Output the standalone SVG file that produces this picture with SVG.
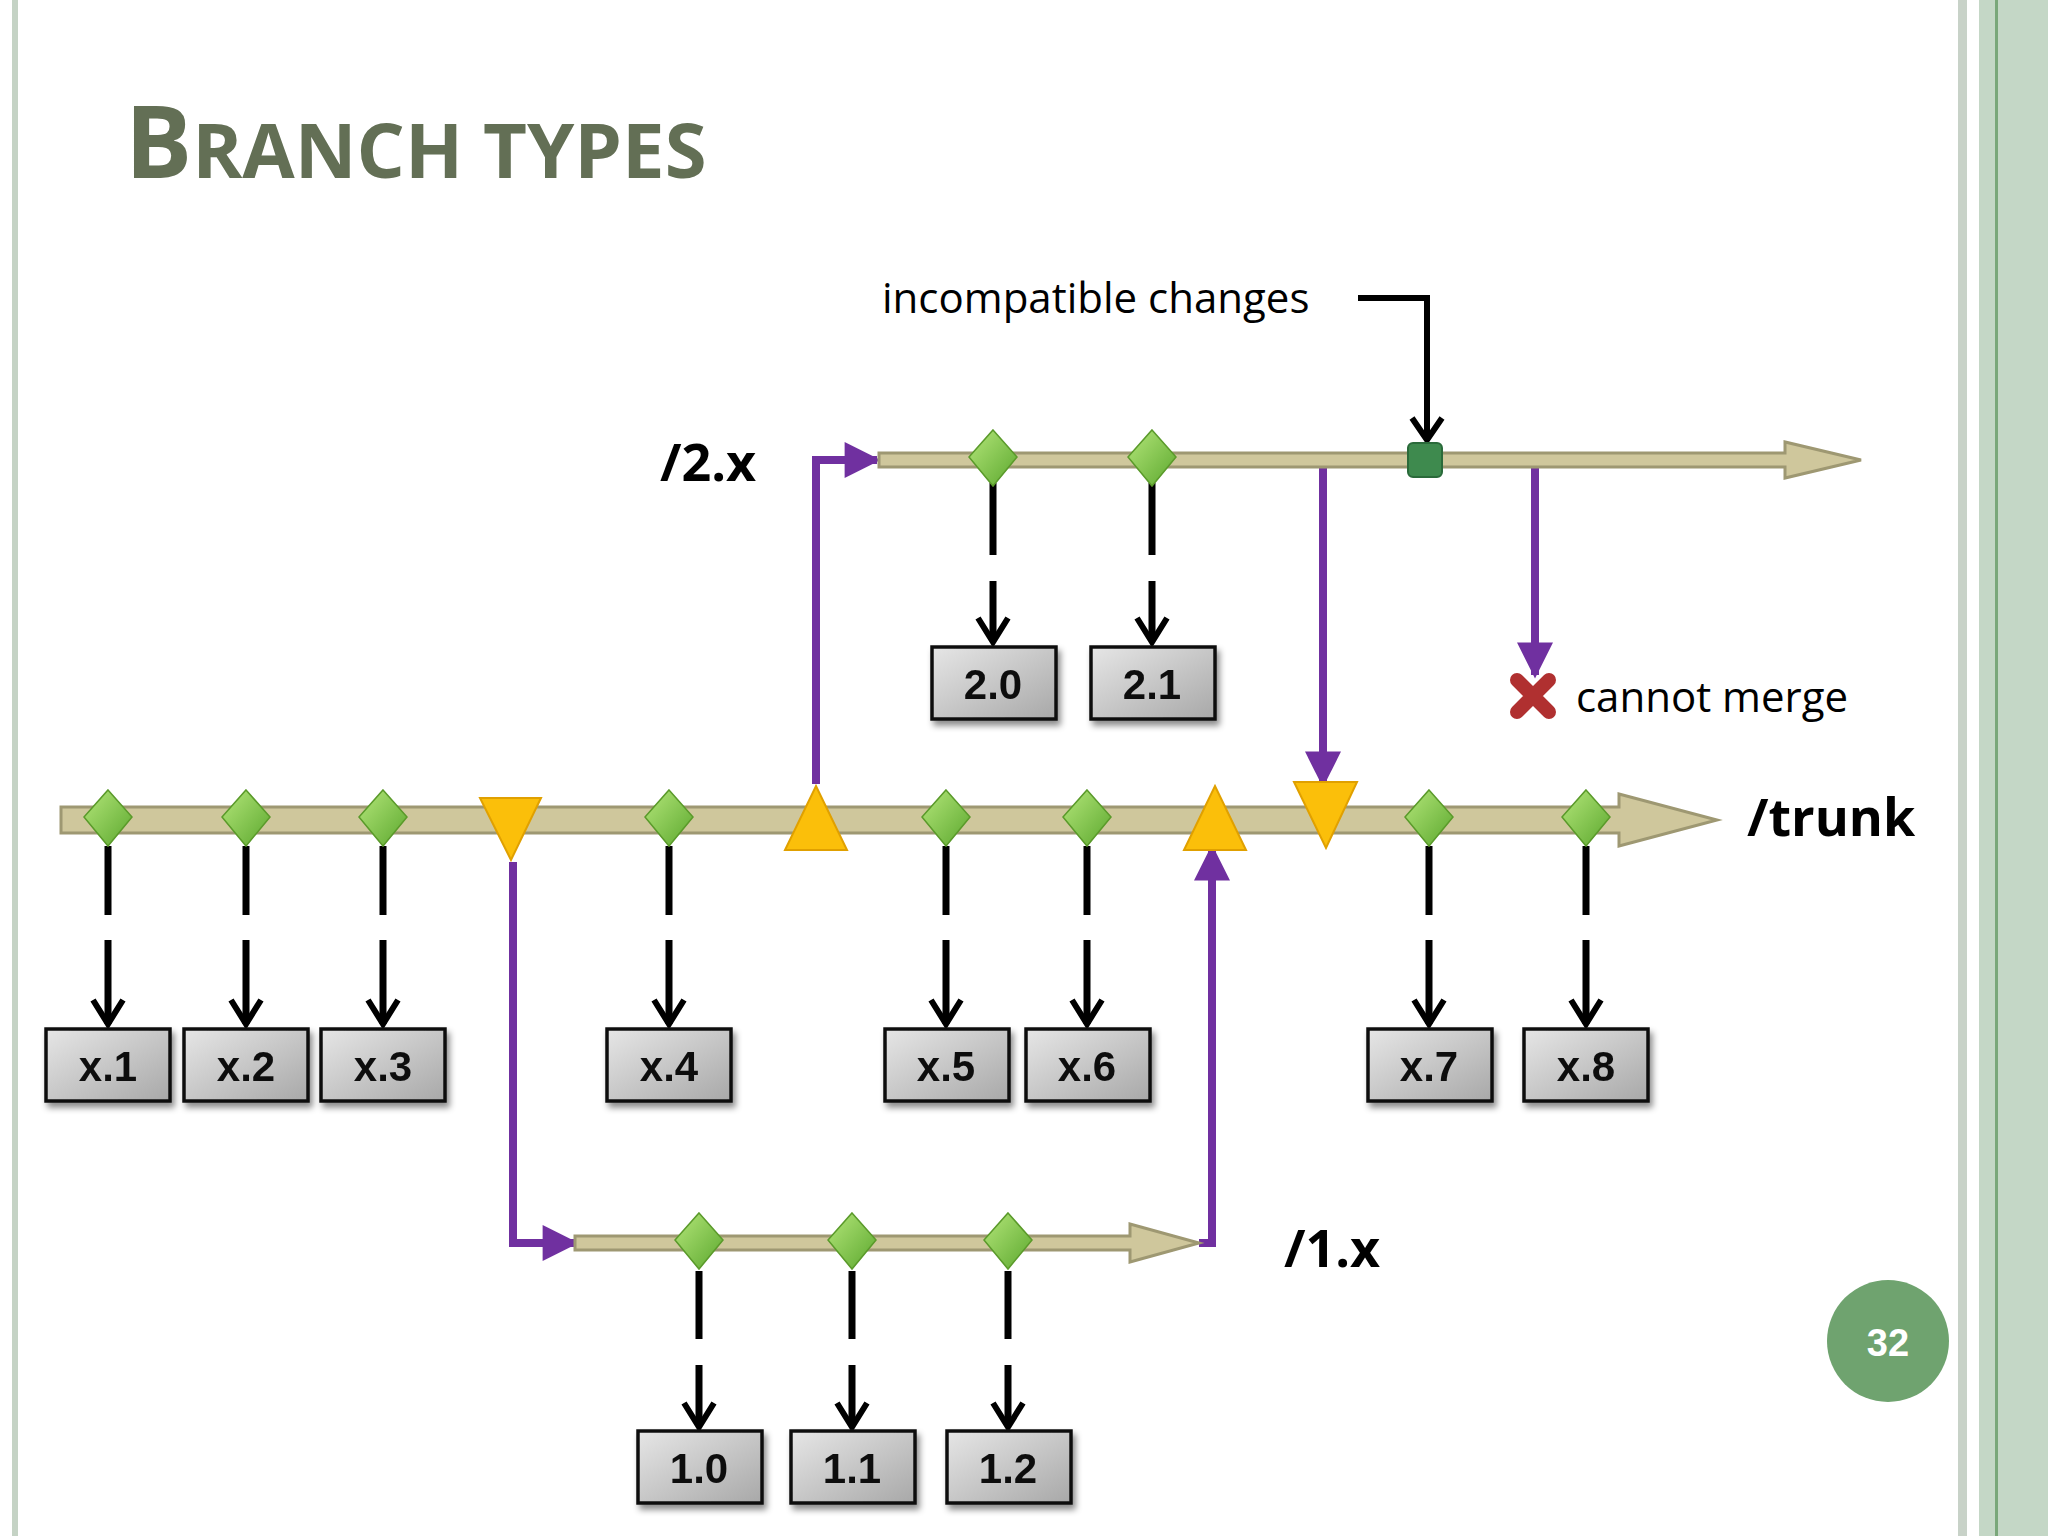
<svg xmlns="http://www.w3.org/2000/svg" width="2048" height="1536" viewBox="0 0 2048 1536">
<defs>
<style>
.bar{fill:#cfc79c;stroke:#9e9872;stroke-width:3}
.dia{fill:url(#g);stroke:#5a9a2a;stroke-width:1.5}
.tick{stroke:#000;stroke-width:7;fill:none}
.chev{stroke:#000;stroke-width:6;fill:none;stroke-linejoin:miter}
.box{fill:url(#bg);stroke:#111;stroke-width:3.5}
.bt{font-family:"Liberation Sans",Arial,sans-serif;font-weight:bold;font-size:42px;fill:#111;text-anchor:middle}
.pur{stroke:#7030a0;stroke-width:8;fill:none}
.lbl{font-family:"Open Sans","Liberation Sans",sans-serif;font-weight:bold;font-size:52px;fill:#000}
.txt{font-family:"Open Sans","Liberation Sans",sans-serif;font-size:42px;fill:#000}
.tri{fill:#fbbf0a;stroke:#e0a000;stroke-width:2}
</style>
<linearGradient id="g" x1="0" y1="0" x2="1" y2="1"><stop offset="0" stop-color="#b4e67a"/><stop offset="1" stop-color="#5ca82e"/></linearGradient>
<linearGradient id="bg" x1="0" y1="0" x2="1" y2="1"><stop offset="0" stop-color="#e6e6e6"/><stop offset="1" stop-color="#a8a8a8"/></linearGradient>
<filter id="sh" x="-20%" y="-20%" width="150%" height="150%"><feDropShadow dx="3" dy="5" stdDeviation="3" flood-opacity="0.45"/></filter>
<marker id="parr" viewBox="0 0 20 20" refX="18" refY="10" markerWidth="40" markerHeight="36" markerUnits="userSpaceOnUse" orient="auto">
<path d="M0 0 L20 10 L0 20 Z" fill="#7030a0"/></marker>
</defs>
<rect width="2048" height="1536" fill="#fff"/>
<rect x="12" y="0" width="6" height="1536" fill="#c5d3c5"/>
<rect x="1958" y="0" width="9" height="1536" fill="#c8d2c8"/>
<rect x="1979" y="0" width="69" height="1536" fill="#c4d7c6"/>
<rect x="1995" y="0" width="3" height="1536" fill="#7aa77a"/>
<text x="125" y="178" font-family="Open Sans,Liberation Sans,sans-serif" font-weight="bold" fill="#636f55"><tspan font-size="100">B</tspan><tspan font-size="76">RANCH TYPES</tspan></text>

<g id="connectors">
<path class="pur" d="M513 862 V1243 H575" marker-end="url(#parr)"/>
<path class="pur" d="M1199 1243 H1212 V848" marker-end="url(#parr)"/>
<path class="pur" d="M816 784 V460 H877" marker-end="url(#parr)"/>
<path class="pur" d="M1296 460 H1323 V784" marker-end="url(#parr)"/>
<path class="pur" d="M1502 460 H1535 V675" marker-end="url(#parr)"/>
<path d="M1358 298 H1427 V440" stroke="#000" stroke-width="6" fill="none"/>
<path class="chev" d="M1412 418 L1427 440 L1442 418"/>
<g class="tick">
<path d="M108 846V915M246 846V915M383 846V915M669 846V915M946 846V915M1087 846V915M1429 846V915M1586 846V915"/>
<path d="M108 940V1024M246 940V1024M383 940V1024M669 940V1024M946 940V1024M1087 940V1024M1429 940V1024M1586 940V1024"/>
<path d="M993 483V555M1152 483V555"/>
<path d="M993 581V640M1152 581V640"/>
<path d="M699 1271V1339M852 1271V1339M1008 1271V1339"/>
<path d="M699 1365V1425M852 1365V1425M1008 1365V1425"/>
</g>
<g class="chev">
<path d="M93 1000L108 1024L123 1000M231 1000L246 1024L261 1000M368 1000L383 1024L398 1000M654 1000L669 1024L684 1000M931 1000L946 1024L961 1000M1072 1000L1087 1024L1102 1000M1414 1000L1429 1024L1444 1000M1571 1000L1586 1024L1601 1000"/>
<path d="M978 618L993 642L1008 618M1137 618L1152 642L1167 618"/>
<path d="M684 1403L699 1427L714 1403M837 1403L852 1427L867 1403M993 1403L1008 1427L1023 1403"/>
</g>
</g>

<g id="trunk">
<path class="bar" d="M61 807 H1619 V794 L1717 820 L1619 846 V833 H61 Z"/>
<text class="lbl" x="1747" y="836">/trunk</text>
</g>
<g id="b2x">
<path class="bar" d="M879 453 H1785 V442 L1861 460 L1785 478 V467 H879 Z"/>
<text class="lbl" x="660" y="481">/2.x</text>
</g>
<g id="b1x">
<path class="bar" d="M575 1236 H1130 V1224 L1199 1243 L1130 1262 V1250 H575 Z"/>
<text class="lbl" x="1284" y="1267">/1.x</text>
</g>

<g id="commits">
<g id="d1"><polygon class="dia" points="108,790 132,817 108,846 84,817"/></g>
<g id="d2"><polygon class="dia" points="246,790 270,817 246,846 222,817"/></g>
<g id="d3"><polygon class="dia" points="383,790 407,817 383,846 359,817"/></g>
<g id="d4"><polygon class="dia" points="669,790 693,817 669,846 645,817"/></g>
<g id="d5"><polygon class="dia" points="946,790 970,817 946,846 922,817"/></g>
<g id="d6"><polygon class="dia" points="1087,790 1111,817 1087,846 1063,817"/></g>
<g id="d7"><polygon class="dia" points="1429,790 1453,817 1429,846 1405,817"/></g>
<g id="d8"><polygon class="dia" points="1586,790 1610,817 1586,846 1562,817"/></g>
<g id="d20"><polygon class="dia" points="993,430 1017,457 993,486 969,457"/></g>
<g id="d21"><polygon class="dia" points="1152,430 1176,457 1152,486 1128,457"/></g>
<g id="d10"><polygon class="dia" points="699,1213 723,1240 699,1269 675,1240"/></g>
<g id="d11"><polygon class="dia" points="852,1213 876,1240 852,1269 828,1240"/></g>
<g id="d12"><polygon class="dia" points="1008,1213 1032,1240 1008,1269 984,1240"/></g>
<g id="sq"><rect x="1408" y="443" width="34" height="34" rx="5" fill="#3e8a4e" stroke="#2a6a3a" stroke-width="2"/></g>
<g id="t1"><polygon class="tri" points="480,798 541,798 511,860"/></g>
<g id="t2"><polygon class="tri" points="785,850 847,850 816,786"/></g>
<g id="t3"><polygon class="tri" points="1184,850 1246,850 1215,786"/></g>
<g id="t4"><polygon class="tri" points="1294,782 1357,782 1326,848"/></g>
</g>

<g id="boxes" filter="url(#sh)">
<g id="bx1"><rect class="box" x="46" y="1029" width="124" height="72"/><text class="bt" x="108" y="1081">x.1</text></g>
<g id="bx2"><rect class="box" x="184" y="1029" width="124" height="72"/><text class="bt" x="246" y="1081">x.2</text></g>
<g id="bx3"><rect class="box" x="321" y="1029" width="124" height="72"/><text class="bt" x="383" y="1081">x.3</text></g>
<g id="bx4"><rect class="box" x="607" y="1029" width="124" height="72"/><text class="bt" x="669" y="1081">x.4</text></g>
<g id="bx5"><rect class="box" x="885" y="1029" width="124" height="72"/><text class="bt" x="946" y="1081">x.5</text></g>
<g id="bx6"><rect class="box" x="1026" y="1029" width="124" height="72"/><text class="bt" x="1087" y="1081">x.6</text></g>
<g id="bx7"><rect class="box" x="1368" y="1029" width="124" height="72"/><text class="bt" x="1429" y="1081">x.7</text></g>
<g id="bx8"><rect class="box" x="1524" y="1029" width="124" height="72"/><text class="bt" x="1586" y="1081">x.8</text></g>
<g id="bx20"><rect class="box" x="932" y="647" width="124" height="72"/><text class="bt" x="993" y="699">2.0</text></g>
<g id="bx21"><rect class="box" x="1091" y="647" width="124" height="72"/><text class="bt" x="1152" y="699">2.1</text></g>
<g id="bx10"><rect class="box" x="638" y="1431" width="124" height="72"/><text class="bt" x="699" y="1483">1.0</text></g>
<g id="bx11"><rect class="box" x="791" y="1431" width="124" height="72"/><text class="bt" x="852" y="1483">1.1</text></g>
<g id="bx12"><rect class="box" x="947" y="1431" width="124" height="72"/><text class="bt" x="1008" y="1483">1.2</text></g>
</g>

<g id="notes">
<text class="txt" x="882" y="313">incompatible changes</text>
<g id="xmark" stroke="#b03030" stroke-width="14" stroke-linecap="round"><path d="M1517 680L1549 712M1549 680L1517 712"/></g>
<text class="txt" x="1576" y="712">cannot merge</text>
</g>
<g id="page"><circle cx="1888" cy="1341" r="61" fill="#6fa36f"/><text x="1888" y="1356" text-anchor="middle" font-family="Liberation Sans,sans-serif" font-weight="bold" font-size="38" fill="#fff">32</text></g>
</svg>
